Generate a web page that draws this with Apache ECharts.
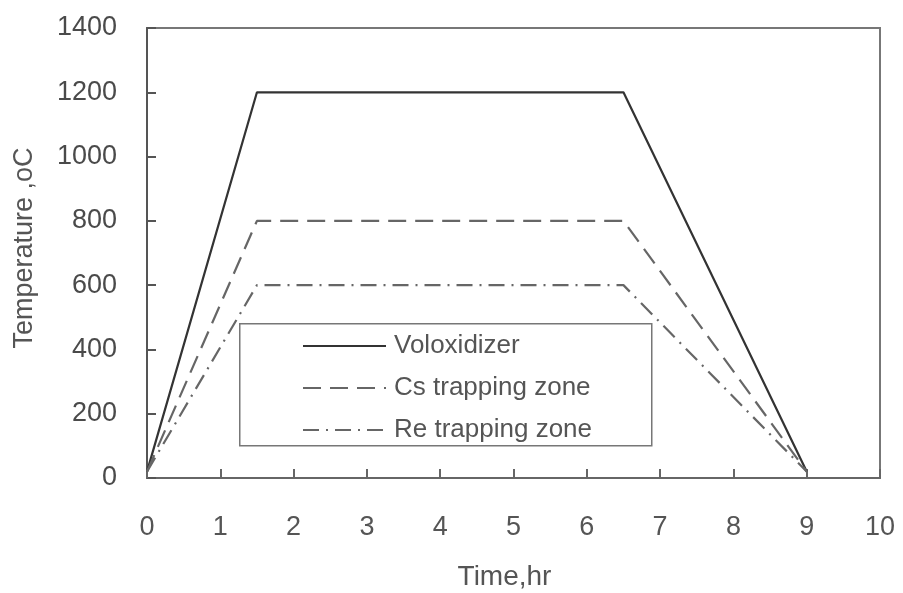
<!DOCTYPE html>
<html>
<head>
<meta charset="utf-8">
<script src="https://cdn.jsdelivr.net/npm/echarts@6/dist/echarts.min.js"></script>
<style>html,body{margin:0;padding:0;background:#fff}#c{width:903px;height:593px}</style>
</head>
<body>
<div id="c"></div>
<script>
var timeHr = [0, 1.5, 6.5, 9];
var voloxidizer = [20, 1200, 1200, 20];
var csZone = [20, 800, 800, 20];
var reZone = [20, 600, 600, 20];
var seriesNames = ['Voloxidizer', 'Cs trapping zone', 'Re trapping zone'];
var xTicks = [0,1,2,3,4,5,6,7,8,9,10];
var yTicks = [0,200,400,600,800,1000,1200,1400];

function pairs(xs, ys){ return xs.map(function(x,i){ return [x, ys[i]]; }); }

var font = 'Liberation Sans, Arial, sans-serif';
var chart = echarts.init(document.getElementById('c'));
chart.setOption({
  backgroundColor: '#fff',
  animation: false,
  grid: { left: 147, right: 23, top: 28, bottom: 115, show: true, borderColor: '#777', borderWidth: 2,
          containLabel: false, outerBoundsMode: 'none' },
  xAxis: {
    type: 'value', min: 0, max: 10, interval: 1,
    name: 'Time,hr', nameLocation: 'middle', nameGap: 85,
    nameTextStyle: { fontSize: 28, color: '#555', fontFamily: font, padding: [0, 18, 0, 0] },
    axisLine: { lineStyle: { color: '#666', width: 2 } },
    axisTick: { inside: true, length: 9, lineStyle: { color: '#666', width: 2 } },
    axisLabel: { fontSize: 27, color: '#555', margin: 36, fontFamily: font,
      formatter: function(v){ return String(v); } },
    splitLine: { show: false }
  },
  yAxis: {
    type: 'value', min: 0, max: 1400, interval: 200,
    name: 'Temperature ,oC', nameLocation: 'middle', nameGap: 109,
    nameTextStyle: { fontSize: 27, color: '#555', fontFamily: font, padding: [0, 0, 0, 10] },
    axisLine: { show: true, lineStyle: { color: '#555', width: 2 } },
    axisTick: { show: true, inside: true, length: 9, lineStyle: { color: '#555', width: 2 } },
    axisLabel: { fontSize: 27, color: '#4a4a4a', margin: 30, fontFamily: font,
      formatter: function(v){ return String(v); } },
    splitLine: { show: false }
  },
  legend: {
    orient: 'vertical', left: 302, top: 332, padding: 0,
    itemWidth: 83, itemHeight: 14, itemGap: 14,
    itemStyle: { opacity: 0 },
    textStyle: { fontSize: 26, color: '#555', fontFamily: font, lineHeight: 28, padding: [0, 0, 0, 3] },
    data: seriesNames
  },
  graphic: [{
    type: 'rect', left: 239, top: 323, z: 0,
    shape: { width: 412, height: 122 },
    style: { fill: 'rgba(0,0,0,0)', stroke: '#777', lineWidth: 1.5 }
  }],
  series: [
    { name: seriesNames[0], type: 'line', symbol: 'none', data: pairs(timeHr, voloxidizer),
      lineStyle: { color: '#333', width: 2.2, type: 'solid' }, itemStyle: { color: '#333' } },
    { name: seriesNames[1], type: 'line', symbol: 'none', data: pairs(timeHr, csZone),
      lineStyle: { color: '#666', width: 2.2, type: [18, 9] }, itemStyle: { color: '#666' } },
    { name: seriesNames[2], type: 'line', symbol: 'none', data: pairs(timeHr, reZone),
      lineStyle: { color: '#666', width: 2.2, type: [16, 7, 2, 7] }, itemStyle: { color: '#666' } }
  ]
});
</script>
</body>
</html>
